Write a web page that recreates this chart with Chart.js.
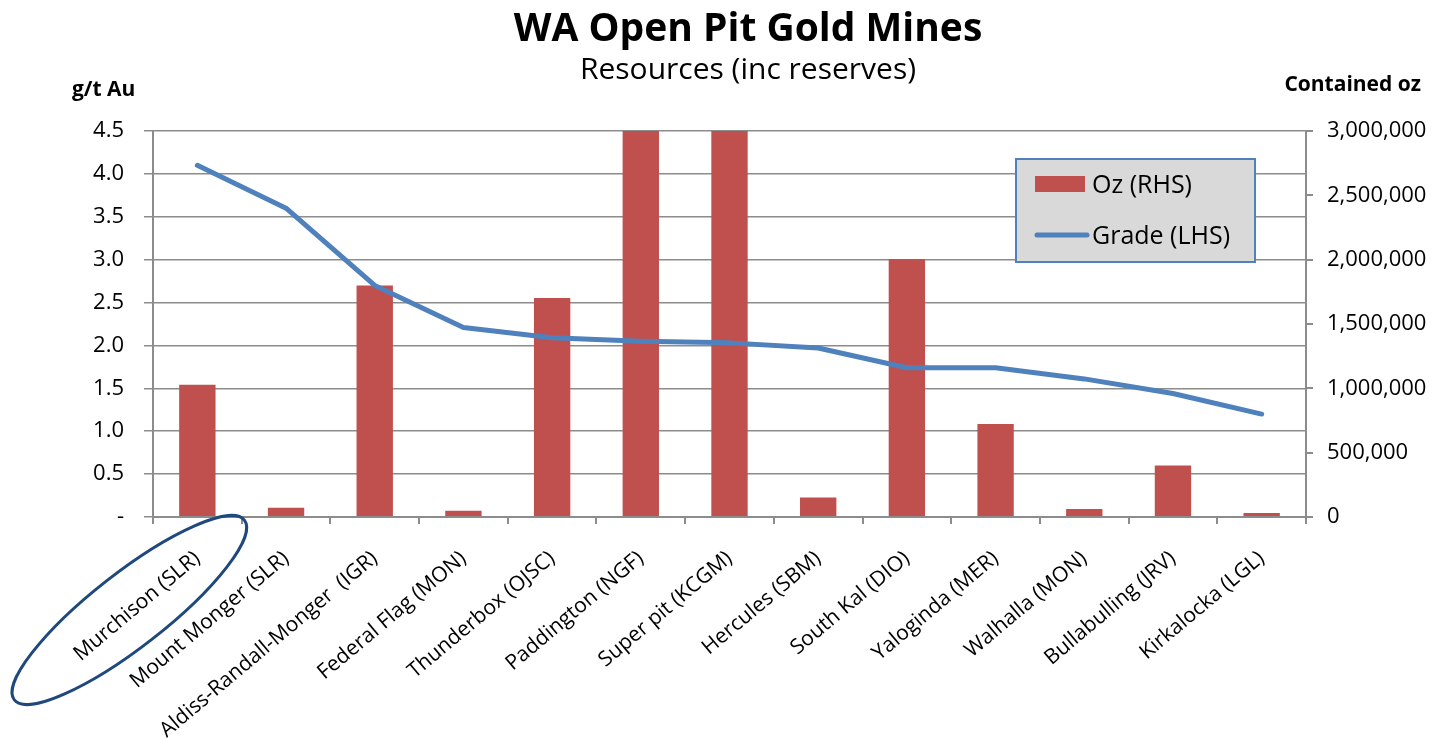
<!DOCTYPE html>
<html>
<head>
<meta charset="utf-8">
<title>WA Open Pit Gold Mines</title>
<script src="https://cdn.jsdelivr.net/npm/chart.js@4.4.1/dist/chart.umd.min.js"></script>
<style>
    html, body { margin: 0; padding: 0; background: #fff; }
    #wrap { width: 1435px; height: 739px; position: relative; }
</style>
</head>
<body>
<div id="wrap"><canvas id="chart-mines"></canvas></div>
<script>
// Data
const mines = [
    'Murchison (SLR)', 'Mount Monger (SLR)', 'Aldiss-Randall-Monger  (IGR)', 'Federal Flag (MON)',
    'Thunderbox (OJSC)', 'Paddington (NGF)', 'Super pit (KCGM)', 'Hercules (SBM)',
    'South Kal (DIO)', 'Yaloginda (MER)', 'Walhalla (MON)', 'Bullabulling (JRV)', 'Kirkalocka (LGL)'
];
const ounces = [1027000, 72000, 1800000, 49000, 1703000, 3000000, 3000000, 152000, 2005000, 722000, 62000, 401000, 31000];
const grade = [4.10, 3.60, 2.70, 2.21, 2.09, 2.05, 2.03, 1.97, 1.74, 1.74, 1.61, 1.44, 1.20];

const gradeMax = 4.5;
const gradeStep = 0.5;
const ozMax = 3000000;
const ozStep = 500000;

const FONT = "'Open Sans', 'DejaVu Sans', sans-serif";
const RED = '#c0504d';
const BLUE = '#4f81bd';
const GRID = '#8c8c8c';

Chart.defaults.color = '#000';
Chart.defaults.font.family = FONT;

// titles, axis titles, legend box and the hand drawn ellipse
const extras = {
    id: 'extras',
    afterDraw(chart) {
        const ctx = chart.ctx;
        const area = chart.chartArea;
        ctx.save();

        // chart title (centred a little right of the canvas middle, as in the source)
        ctx.fillStyle = '#000';
        ctx.textAlign = 'center';
        ctx.textBaseline = 'middle';
        ctx.font = `bold 39px ${FONT}`;
        ctx.fillText('WA Open Pit Gold Mines', 748, 30);
        ctx.font = `30px ${FONT}`;
        ctx.fillText('Resources (inc reserves)', 748, 70);

        // axis titles
        ctx.font = `bold 21px ${FONT}`;
        ctx.textAlign = 'left';
        ctx.fillText('g/t Au', 72, 90);
        ctx.textAlign = 'right';
        ctx.fillText('Contained oz', 1421, 85);

        // legend
        const lx = 1016, ly = 159, lw = 239, lh = 103;
        ctx.fillStyle = '#d9d9d9';
        ctx.fillRect(lx, ly, lw, lh);
        ctx.strokeStyle = BLUE;
        ctx.lineWidth = 2;
        ctx.strokeRect(lx, ly, lw, lh);

        const items = chart.data.datasets;
        ctx.font = `25px ${FONT}`;
        ctx.textAlign = 'left';
        ctx.fillStyle = items[0].backgroundColor;
        ctx.fillRect(lx + 19, ly + 17, 50, 16);
        ctx.fillStyle = '#000';
        ctx.fillText(items[0].label, lx + 76, ly + 27);

        ctx.strokeStyle = items[1].borderColor;
        ctx.lineWidth = 5;
        ctx.lineCap = 'round';
        ctx.beginPath();
        ctx.moveTo(lx + 21, ly + 76);
        ctx.lineTo(lx + 71, ly + 76);
        ctx.stroke();
        ctx.fillText(items[1].label, lx + 76, ly + 78);

        // ellipse round the first label
        const x0 = chart.scales.x.getPixelForValue(0);
        ctx.strokeStyle = '#1f497d';
        ctx.lineWidth = 3;
        ctx.beginPath();
        ctx.ellipse(x0 - 68, area.bottom + 93, 146, 37, -38 * Math.PI / 180, 0, Math.PI * 2);
        ctx.stroke();

        ctx.restore();
    }
};

const ctxMines = document.getElementById('chart-mines').getContext('2d');
const minesChart = new Chart(ctxMines, {
    data: {
        labels: mines,
        datasets: [
            {
                type: 'bar',
                label: 'Oz (RHS)',
                data: ounces,
                yAxisID: 'yOz',
                backgroundColor: RED,
                borderWidth: 0,
                barPercentage: 0.41,
                categoryPercentage: 1,
                order: 1
            },
            {
                type: 'line',
                label: 'Grade (LHS)',
                data: grade,
                yAxisID: 'yGrade',
                borderColor: BLUE,
                backgroundColor: BLUE,
                borderWidth: 5,
                borderCapStyle: 'round',
                borderJoinStyle: 'round',
                tension: 0,
                pointRadius: 0,
                order: 0
            }
        ]
    },
    options: {
        responsive: true,
        maintainAspectRatio: false,
        animation: false,
        layout: { padding: { left: 0, right: 0, top: 131, bottom: 0 } },
        plugins: {
            legend: { display: false },
            tooltip: { enabled: false },
            title: { display: false }
        },
        scales: {
            x: {
                offset: true,
                grid: {
                    offset: true,
                    drawOnChartArea: false,
                    color: GRID,
                    lineWidth: 2,
                    tickLength: 7
                },
                border: { color: GRID, width: 2 },
                ticks: {
                    font: { size: 21 },
                    maxRotation: 40,
                    minRotation: 40,
                    autoSkip: false,
                    padding: 22
                },
                afterFit: scale => { scale.height = 222; }
            },
            yGrade: {
                position: 'left',
                min: 0,
                max: gradeMax,
                ticks: {
                    stepSize: gradeStep,
                    font: { size: 22 },
                    padding: 20,
                    callback: v => v === 0 ? '-' : v.toFixed(1)
                },
                grid: { color: GRID, lineWidth: 1.5, tickLength: 9 },
                border: { color: GRID, width: 2 },
                afterFit: scale => { scale.width = 153; }
            },
            yOz: {
                position: 'right',
                min: 0,
                max: ozMax,
                ticks: {
                    stepSize: ozStep,
                    font: { size: 22 },
                    padding: 14,
                    callback: v => v.toLocaleString('en-US')
                },
                grid: { drawOnChartArea: false, color: GRID, lineWidth: 2, tickLength: 7 },
                border: { color: GRID, width: 2 },
                afterFit: scale => { scale.width = 129; }
            }
        }
    },
    plugins: [extras]
});
</script>
</body>
</html>
